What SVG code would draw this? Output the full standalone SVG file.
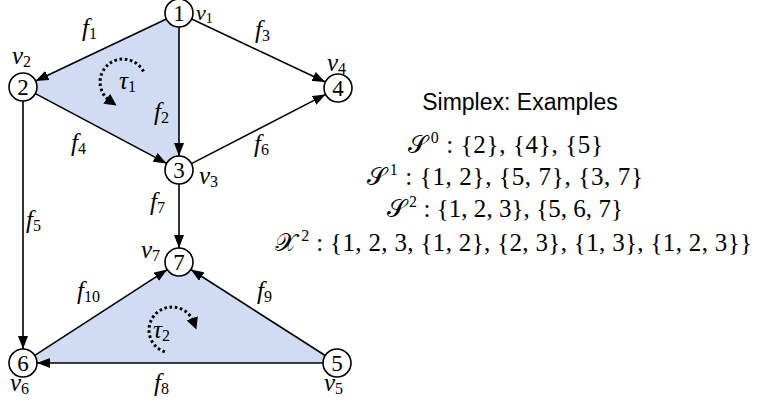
<svg xmlns="http://www.w3.org/2000/svg" width="759" height="409" viewBox="0 0 759 409">
<style>
.bg{fill:#ffffff}
.tri{fill:#d0dcf2;stroke:none}
.edge{stroke:#000;stroke-width:1.6;fill:none;marker-end:url(#arr)}
.rot{stroke:#000;stroke-width:3;fill:none;stroke-dasharray:2.6 2.6;marker-end:url(#rarr)}
.node circle{fill:#fff;stroke:#000;stroke-width:1.6}
.num{font-family:"Liberation Serif","DejaVu Serif",serif;font-size:23px;text-anchor:middle;fill:#000}
.lbl{font-family:"Liberation Serif","DejaVu Serif",serif;font-style:italic;font-size:25px;fill:#000}
.sub{font-style:normal;font-size:16px}
.title{font-family:"Liberation Sans",Arial,sans-serif;font-size:23px;fill:#000}
.math{font-family:"Liberation Serif","DejaVu Serif",serif;font-size:25px;fill:#000}
.scr{font-family:"DejaVu Serif","Noto Sans",serif}
.sup{font-size:16px}
</style>
<defs>
<marker id="arr" markerUnits="userSpaceOnUse" markerWidth="14" markerHeight="10" refX="13" refY="5" orient="auto">
<path d="M0,0 L13,5 L0,10 z" fill="#000"/>
</marker>
<marker id="rarr" markerUnits="userSpaceOnUse" markerWidth="14" markerHeight="12" refX="4" refY="6" orient="auto">
<path d="M0,0 L12,6 L0,12 z" fill="#000"/>
</marker>
</defs>
<rect class="bg" x="0" y="0" width="759" height="409"/>
<g id="faces">
<polygon class="tri" points="179,13 23,87 179,170"/>
<polygon class="tri" points="179,262 23,363 337,363"/>
</g>
<g id="connectors">
<line class="edge" x1="166.4" y1="19" x2="35.6" y2="81"/>
<line class="edge" x1="179" y1="27" x2="179" y2="156"/>
<line class="edge" x1="191.7" y1="19" x2="325.3" y2="82"/>
<line class="edge" x1="35.4" y1="93.6" x2="166.6" y2="163.4"/>
<line class="edge" x1="191.4" y1="163.6" x2="325.6" y2="94.4"/>
<line class="edge" x1="179" y1="184" x2="179" y2="248"/>
<line class="edge" x1="23" y1="101" x2="23" y2="349"/>
<line class="edge" x1="34.8" y1="355.4" x2="167.2" y2="269.6"/>
<line class="edge" x1="325.2" y1="355.5" x2="190.8" y2="269.5"/>
<line class="edge" x1="323" y1="363" x2="37" y2="363"/>
</g>
<g id="rotations">
<path class="rot" d="M143.5,71.5 A23 23 0 1 0 110,101"/>
<path class="rot" d="M164.9,351.9 A23 23 0 1 1 193.6,322.1"/>
</g>
<g id="node1" class="node"><circle cx="179" cy="13" r="14"/><text class="num" x="179" y="21">1</text></g>
<g id="node2" class="node"><circle cx="23" cy="87" r="14"/><text class="num" x="23" y="95">2</text></g>
<g id="node3" class="node"><circle cx="179" cy="170" r="14"/><text class="num" x="179" y="178">3</text></g>
<g id="node4" class="node"><circle cx="338" cy="88" r="14"/><text class="num" x="338" y="96">4</text></g>
<g id="node5" class="node"><circle cx="337" cy="363" r="14"/><text class="num" x="337" y="371">5</text></g>
<g id="node6" class="node"><circle cx="23" cy="363" r="14"/><text class="num" x="23" y="371">6</text></g>
<g id="node7" class="node"><circle cx="179" cy="262" r="14"/><text class="num" x="179" y="270">7</text></g>
<g id="labels">
<text class="lbl" x="196" y="20" style="font-size:22px">v<tspan class="sub" dy="3" style="font-size:14px">1</tspan></text>
<text class="lbl" x="12" y="64">v<tspan class="sub" dy="3">2</tspan></text>
<text class="lbl" x="199" y="184">v<tspan class="sub" dy="3">3</tspan></text>
<text class="lbl" x="327" y="71">v<tspan class="sub" dy="3">4</tspan></text>
<text class="lbl" x="324" y="391">v<tspan class="sub" dy="3">5</tspan></text>
<text class="lbl" x="10" y="391">v<tspan class="sub" dy="3">6</tspan></text>
<text class="lbl" x="141" y="258">v<tspan class="sub" dy="3">7</tspan></text>
<text class="lbl" x="82" y="36">f<tspan class="sub" dy="3">1</tspan></text>
<text class="lbl" x="154" y="120">f<tspan class="sub" dy="3">2</tspan></text>
<text class="lbl" x="255" y="38">f<tspan class="sub" dy="3">3</tspan></text>
<text class="lbl" x="71" y="151">f<tspan class="sub" dy="3">4</tspan></text>
<text class="lbl" x="26" y="228">f<tspan class="sub" dy="3">5</tspan></text>
<text class="lbl" x="254" y="152">f<tspan class="sub" dy="3">6</tspan></text>
<text class="lbl" x="150" y="210">f<tspan class="sub" dy="3">7</tspan></text>
<text class="lbl" x="154" y="391">f<tspan class="sub" dy="3">8</tspan></text>
<text class="lbl" x="257" y="299">f<tspan class="sub" dy="3">9</tspan></text>
<text class="lbl" x="77" y="299">f<tspan class="sub" dy="3">10</tspan></text>
<text class="lbl" x="119" y="89">τ<tspan class="sub" dy="3">1</tspan></text>
<text class="lbl" x="153" y="338">τ<tspan class="sub" dy="3">2</tspan></text>
</g>
<g id="examples">
<text class="title" x="520" y="110" text-anchor="middle">Simplex: Examples</text>
<text class="math" x="408" y="153" textLength="195" lengthAdjust="spacing"><tspan class="scr">𝒮</tspan><tspan class="sup" dx="3" dy="-10">0</tspan><tspan dy="10"> : {2}, {4}, {5}</tspan></text>
<text class="math" x="367" y="185" textLength="276" lengthAdjust="spacing"><tspan class="scr">𝒮</tspan><tspan class="sup" dx="3" dy="-10">1</tspan><tspan dy="10"> : {1, 2}, {5, 7}, {3, 7}</tspan></text>
<text class="math" x="387" y="217" textLength="236" lengthAdjust="spacing"><tspan class="scr">𝒮</tspan><tspan class="sup" dx="3" dy="-10">2</tspan><tspan dy="10"> : {1, 2, 3}, {5, 6, 7}</tspan></text>
<text class="math" x="275" y="251" textLength="477" lengthAdjust="spacing"><tspan class="scr">𝒳</tspan><tspan class="sup" dx="4" dy="-10">2</tspan><tspan dy="10"> : {1, 2, 3, {1, 2}, {2, 3}, {1, 3}, {1, 2, 3}}</tspan></text>
</g>
</svg>
